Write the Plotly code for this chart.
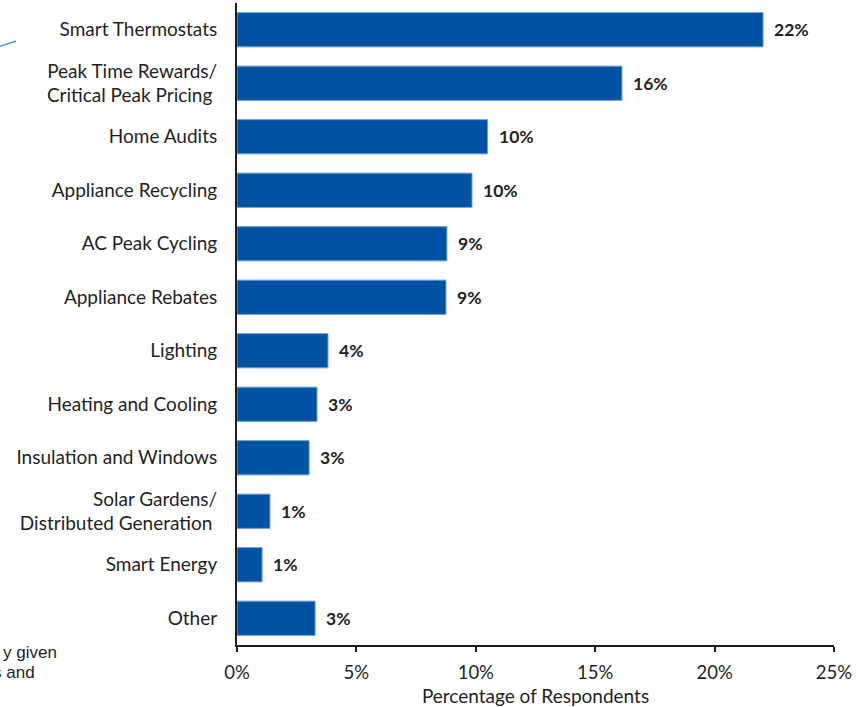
import plotly.graph_objects as go

# Survey results: programs respondents were most interested in
programs = [
    "Smart Thermostats",
    "Peak Time Rewards/<br>Critical Peak Pricing\u00a0",
    "Home Audits",
    "Appliance Recycling",
    "AC Peak Cycling",
    "Appliance Rebates",
    "Lighting",
    "Heating and Cooling",
    "Insulation and Windows",
    "Solar Gardens/<br>Distributed Generation\u00a0",
    "Smart Energy",
    "Other",
]
shares = [0.2203, 0.1612, 0.1049, 0.0984, 0.0879, 0.0875,
          0.0381, 0.0335, 0.0302, 0.0138, 0.0105, 0.0327]
x_ticks = [0, 0.05, 0.10, 0.15, 0.20, 0.25]
x_tick_labels = ["0%", "5%", "10%", "15%", "20%", "25%"]

FONT = "Lato, Carlito, Calibri, sans-serif"
INK = "#1F1F1F"
BAR = "#0053A4"

W, H = 866, 707
ML, MR, MT, MB = 237, 32, 3, 62
PW, PH = W - ML - MR, H - MT - MB


def px(xp):
    """Pixel column -> paper x."""
    return (xp - ML) / PW


def py(yp):
    """Pixel row -> paper y."""
    return (H - MB - yp) / PH


fig = go.Figure(
    go.Bar(
        x=shares,
        y=programs,
        orientation="h",
        marker=dict(color=BAR, line=dict(color="#6C9BD2", width=1)),
        width=0.64,
        hoverinfo="skip",
    )
)

# Value labels to the right of each bar
for cat, v in zip(programs, shares):
    fig.add_annotation(
        x=v, y=cat, xref="x", yref="y",
        text=f"<b>{v:.0%}</b>",
        showarrow=False, xanchor="left", yanchor="middle",
        xshift=9, font=dict(family=FONT, size=17.5, color=INK),
    )

# Fragments of the neighbouring slide content at the far left
side_font = dict(family="Liberation Sans, Arial", size=17, color=INK)
fig.add_annotation(x=px(1), y=py(652), xref="paper", yref="paper",
                   text="y given", showarrow=False, xanchor="left",
                   yanchor="middle", font=side_font)
fig.add_annotation(x=px(37), y=py(672), xref="paper", yref="paper",
                   text="s and", showarrow=False, xanchor="right",
                   yanchor="middle", font=side_font)
fig.add_shape(type="line", xref="paper", yref="paper",
              x0=px(-2), y0=py(47), x1=px(16), y1=py(41),
              line=dict(color="#4A9BD8", width=1.5))

fig.update_layout(
    width=W, height=H,
    margin=dict(l=ML, r=MR, t=MT, b=MB),
    paper_bgcolor="white", plot_bgcolor="white",
    showlegend=False,
    font=dict(family=FONT, size=17, color=INK),
    xaxis=dict(
        range=[0, 0.25], tickvals=x_ticks, ticktext=x_tick_labels,
        showgrid=False, zeroline=False,
        showline=True, linecolor=INK, linewidth=2,
        ticks="outside", ticklen=5, tickwidth=2, tickcolor=INK,
        ticklabelstandoff=5,
        tickfont=dict(family=FONT, size=18.5, color=INK),
        title=dict(text="Percentage of Respondents", standoff=8,
                   font=dict(family=FONT, size=19, color=INK)),
    ),
    yaxis=dict(
        autorange="reversed", showgrid=False, zeroline=False,
        showline=True, linecolor=INK, linewidth=2,
        ticks="", ticklabelstandoff=14,
        tickfont=dict(family=FONT, size=19, color=INK),
    ),
)

fig.write_html("out.html")
